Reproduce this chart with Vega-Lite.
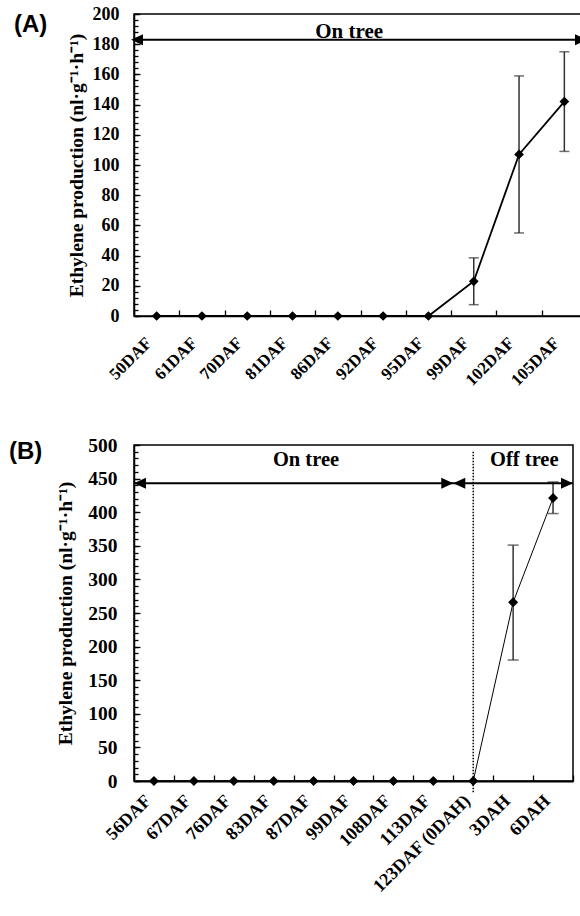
{
  "$schema": "https://vega.github.io/schema/vega-lite/v6.json",
  "background": "white",
  "padding": {"left": 8, "top": 4, "right": 0, "bottom": 0},
  "config": {
    "font": "Liberation Serif",
    "view": {"stroke": "black", "strokeWidth": 1.5},
    "axis": {"domainColor": "black", "domainWidth": 1.5, "tickColor": "black", "tickWidth": 1.3, "labelColor": "black", "titleColor": "black", "labelFont": "Liberation Serif", "titleFont": "Liberation Serif", "labelFontWeight": "bold", "titleFontWeight": "bold", "grid": false}
  },
  "datasets": {
    "a": [
      {"t": "50DAF", "v": 0}, {"t": "61DAF", "v": 0}, {"t": "70DAF", "v": 0}, {"t": "81DAF", "v": 0},
      {"t": "86DAF", "v": 0}, {"t": "92DAF", "v": 0}, {"t": "95DAF", "v": 0},
      {"t": "99DAF", "v": 23, "lo": 7.5, "hi": 38.5},
      {"t": "102DAF", "v": 107, "lo": 55, "hi": 159},
      {"t": "105DAF", "v": 142, "lo": 109, "hi": 175}
    ],
    "b": [
      {"t": "56DAF", "v": 0}, {"t": "67DAF", "v": 0}, {"t": "76DAF", "v": 0}, {"t": "83DAF", "v": 0},
      {"t": "87DAF", "v": 0}, {"t": "99DAF", "v": 0}, {"t": "108DAF", "v": 0}, {"t": "113DAF", "v": 0},
      {"t": "123DAF (0DAH)", "v": 0},
      {"t": "3DAH", "v": 266, "lo": 180, "hi": 351},
      {"t": "6DAH", "v": 421, "lo": 398, "hi": 445}
    ]
  },
  "columns": 1,
  "align": "none",
  "spacing": 44,
  "concat": [
    {
      "width": 453, "height": 302,
      "data": {"name": "a"},
      "resolve": {"axis": {"x": "independent", "y": "independent"}},
      "encoding": {
        "x": {"field": "t", "type": "nominal", "sort": null,
          "scale": {"type": "band", "paddingInner": 0, "paddingOuter": 0, "domain": ["50DAF","61DAF","70DAF","81DAF","86DAF","92DAF","95DAF","99DAF","102DAF","105DAF"]},
          "axis": null}
      },
      "layer": [
        {"mark": {"type": "line", "color": "black", "strokeWidth": 1.8},
         "encoding": {
           "x": {"field": "t", "type": "nominal", "sort": null,
             "axis": {"title": null, "orient": "bottom", "labelAngle": -45, "labelAlign": "right", "labelBaseline": "middle", "labelFontSize": 17, "labelPadding": 30, "labelOffset": -8, "tickBand": "extent", "tickSize": -6, "labelOverlap": false}},
           "y": {"field": "v", "type": "quantitative",
           "scale": {"domain": [0, 200], "nice": false},
           "axis": {"title": "Ethylene production (nl·g⁻¹·h⁻¹)", "orient": "left", "titleFontSize": 19.5, "titlePadding": 6,
             "values": [0,20,40,60,80,100,120,140,160,180,200], "labelOverlap": false,
             "tickSize": -6, "labelFontSize": 18, "labelPadding": 21}}}},
        {"transform": [{"filter": "datum.lo != null"}],
         "mark": {"type": "errorbar", "ticks": {"size": 10}, "color": "#333", "thickness": 1.5},
         "encoding": {"y": {"field": "lo", "type": "quantitative",
           "axis": {"title": null, "orient": "left", "labels": false, "domain": false, "tickSize": -4,
             "values": [0,4,8,12,16,20,24,28,32,36,40,44,48,52,56,60,64,68,72,76,80,84,88,92,96,100,104,108,112,116,120,124,128,132,136,140,144,148,152,156,160,164,168,172,176,180,184,188,192,196,200]}},
           "y2": {"field": "hi"}}},
        {"mark": {"type": "point", "shape": "diamond", "filled": true, "size": 95, "color": "black", "opacity": 1},
         "encoding": {"y": {"field": "v", "type": "quantitative", "axis": null}}},
        {"data": {"values": [{"y": 183}]},
         "mark": {"type": "rule", "color": "black", "strokeWidth": 2},
         "encoding": {"x": null, "y": {"field": "y", "type": "quantitative", "axis": null}}},
        {"data": {"values": [{"t": "50DAF", "y": 183}]},
         "mark": {"type": "point", "shape": "M-0.6,0L1.8,-1.1L1.8,1.1Z", "filled": true, "size": 100, "color": "black", "opacity": 1},
         "encoding": {"x": {"field": "t", "type": "nominal", "bandPosition": 0, "axis": null}, "y": {"field": "y", "type": "quantitative", "axis": null}}},
        {"data": {"values": [{"t": "105DAF", "y": 183}]},
         "mark": {"type": "point", "shape": "M0,0L-2.4,-1.1L-2.4,1.1Z", "filled": true, "size": 100, "color": "black", "opacity": 1},
         "encoding": {"x": {"field": "t", "type": "nominal", "bandPosition": 1, "axis": null}, "y": {"field": "y", "type": "quantitative", "axis": null}}},
        {"data": {"values": [{"t": "86DAF", "y": 183, "label": "On tree"}]},
         "mark": {"type": "text", "font": "Liberation Serif", "fontWeight": "bold", "fontSize": 21, "baseline": "alphabetic", "dy": -2, "color": "black"},
         "encoding": {"x": {"field": "t", "type": "nominal", "bandPosition": 0.75, "axis": null}, "y": {"field": "y", "type": "quantitative", "axis": null}, "text": {"field": "label"}}},
        {"data": {"values": [{"t": "50DAF", "y": 200, "label": "(A)"}]},
         "mark": {"type": "text", "font": "Liberation Sans", "fontWeight": "bold", "fontSize": 24, "align": "left", "baseline": "alphabetic", "dx": -120, "dy": 18, "color": "black"},
         "encoding": {"x": {"field": "t", "type": "nominal", "bandPosition": 0, "axis": null}, "y": {"field": "y", "type": "quantitative", "axis": null}, "text": {"field": "label"}}}
      ]
    },
    {
      "width": 439, "height": 336,
      "data": {"name": "b"},
      "resolve": {"axis": {"x": "independent", "y": "independent"}},
      "encoding": {
        "x": {"field": "t", "type": "nominal", "sort": null,
          "scale": {"type": "band", "paddingInner": 0, "paddingOuter": 0, "domain": ["56DAF","67DAF","76DAF","83DAF","87DAF","99DAF","108DAF","113DAF","123DAF (0DAH)","3DAH","6DAH"]},
          "axis": null}
      },
      "layer": [
        {"data": {"values": [{"t": "123DAF (0DAH)"}]},
         "mark": {"type": "rule", "color": "black", "strokeWidth": 1.5, "strokeDash": [1.5, 1.5]},
         "encoding": {"x": {"field": "t", "type": "nominal", "axis": null}, "y": {"datum": 490, "axis": null}, "y2": {"datum": -17}}},
        {"mark": {"type": "line", "color": "black", "strokeWidth": 1},
         "encoding": {
           "x": {"field": "t", "type": "nominal", "sort": null,
             "axis": {"title": null, "orient": "bottom", "labelAngle": -45, "labelAlign": "right", "labelBaseline": "middle", "labelFontSize": 18, "labelPadding": 23, "labelOffset": -6, "tickBand": "extent", "tickSize": -6, "labelOverlap": false, "domainWidth": 2}},
           "y": {"field": "v", "type": "quantitative",
           "scale": {"domain": [0, 500], "nice": false},
           "axis": {"title": "Ethylene production (nl·g⁻¹·h⁻¹)", "orient": "left", "titleFontSize": 19.5, "titlePadding": 12,
             "values": [0,50,100,150,200,250,300,350,400,450,500], "labelOverlap": false,
             "tickSize": -6, "labelFontSize": 19.5, "labelPadding": 23}}}},
        {"transform": [{"filter": "datum.lo != null"}],
         "mark": {"type": "errorbar", "ticks": {"size": 11}, "color": "#333", "thickness": 1.5},
         "encoding": {"y": {"field": "lo", "type": "quantitative",
           "axis": {"title": null, "orient": "left", "labels": false, "domain": false, "tickSize": -4,
             "values": [0,10,20,30,40,50,60,70,80,90,100,110,120,130,140,150,160,170,180,190,200,210,220,230,240,250,260,270,280,290,300,310,320,330,340,350,360,370,380,390,400,410,420,430,440,450,460,470,480,490,500]}},
           "y2": {"field": "hi"}}},
        {"mark": {"type": "point", "shape": "diamond", "filled": true, "size": 100, "color": "black", "opacity": 1},
         "encoding": {"y": {"field": "v", "type": "quantitative", "axis": null}}},
        {"data": {"values": [{"y": 443}]},
         "mark": {"type": "rule", "color": "black", "strokeWidth": 2},
         "encoding": {"x": null, "y": {"field": "y", "type": "quantitative", "axis": null}}},
        {"data": {"values": [{"t": "56DAF", "y": 443}, {"t": "123DAF (0DAH)", "y": 443}]},
         "mark": {"type": "point", "shape": "M0,0L2.4,-1.1L2.4,1.1Z", "filled": true, "size": 100, "color": "black", "opacity": 1},
         "encoding": {"x": {"field": "t", "type": "nominal", "bandPosition": 0, "axis": null}, "y": {"field": "y", "type": "quantitative", "axis": null}}},
        {"data": {"values": [{"t": "113DAF", "y": 443}, {"t": "6DAH", "y": 443}]},
         "mark": {"type": "point", "shape": "M0,0L-2.4,-1.1L-2.4,1.1Z", "filled": true, "size": 100, "color": "black", "opacity": 1},
         "encoding": {"x": {"field": "t", "type": "nominal", "bandPosition": 1, "axis": null}, "y": {"field": "y", "type": "quantitative", "axis": null}}},
        {"data": {"values": [{"t": "87DAF", "y": 469, "label": "On tree"}]},
         "mark": {"type": "text", "font": "Liberation Serif", "fontWeight": "bold", "fontSize": 20.5, "baseline": "alphabetic", "color": "black"},
         "encoding": {"x": {"field": "t", "type": "nominal", "bandPosition": 0.31, "axis": null}, "y": {"field": "y", "type": "quantitative", "axis": null}, "text": {"field": "label"}}},
        {"data": {"values": [{"t": "3DAH", "y": 469, "label": "Off tree"}]},
         "mark": {"type": "text", "font": "Liberation Serif", "fontWeight": "bold", "fontSize": 20.5, "baseline": "alphabetic", "color": "black"},
         "encoding": {"x": {"field": "t", "type": "nominal", "bandPosition": 0.78, "axis": null}, "y": {"field": "y", "type": "quantitative", "axis": null}, "text": {"field": "label"}}},
        {"data": {"values": [{"t": "56DAF", "y": 500, "label": "(B)"}]},
         "mark": {"type": "text", "font": "Liberation Sans", "fontWeight": "bold", "fontSize": 24, "align": "left", "baseline": "alphabetic", "dx": -125, "dy": 14, "color": "black"},
         "encoding": {"x": {"field": "t", "type": "nominal", "bandPosition": 0, "axis": null}, "y": {"field": "y", "type": "quantitative", "axis": null}, "text": {"field": "label"}}}
      ]
    }
  ]
}
